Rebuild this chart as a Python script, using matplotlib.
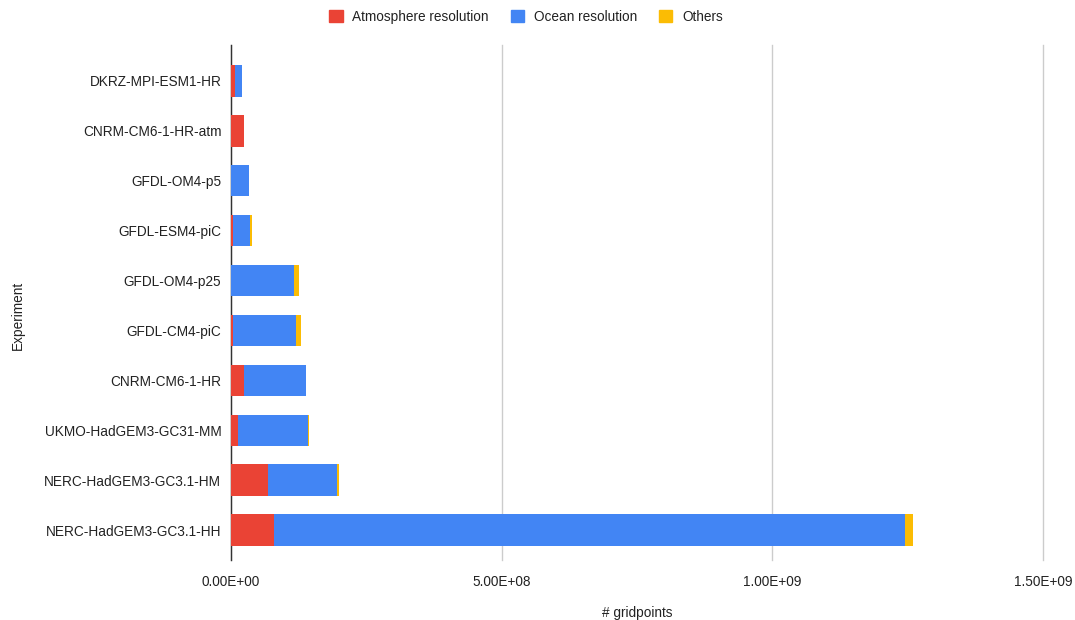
import matplotlib
matplotlib.use("Agg")
import matplotlib.pyplot as plt
from matplotlib.ticker import FuncFormatter
from matplotlib.patches import Patch

experiments = ["DKRZ-MPI-ESM1-HR", "CNRM-CM6-1-HR-atm", "GFDL-OM4-p5", "GFDL-ESM4-piC",
               "GFDL-OM4-p25", "GFDL-CM4-piC", "CNRM-CM6-1-HR", "UKMO-HadGEM3-GC31-MM",
               "NERC-HadGEM3-GC3.1-HM", "NERC-HadGEM3-GC3.1-HH"]
atmosphere = [8e6, 24e6, 0, 3.5e6, 0, 3.7e6, 24e6, 13.5e6, 68e6, 79e6]
ocean = [12.4e6, 0, 33e6, 31e6, 116e6, 116e6, 114e6, 128.7e6, 128.7e6, 1166e6]
others = [0, 0, 1e6, 3.7e6, 10.5e6, 9.8e6, 0, 2e6, 2.5e6, 14.8e6]
xticks = [0, 5e8, 1e9, 1.5e9]

RED, BLUE, YEL = "#EA4335", "#4285F4", "#FBBC04"
plt.rcParams['font.family'] = ['Liberation Sans', 'DejaVu Sans']
FS = 9.8
TC = "#222222"

fig = plt.figure(figsize=(10.75, 6.2), dpi=100)
ax = fig.add_axes([231/1075, 1-560/620, 812/1075, 515/620])

y = list(range(len(experiments)))
h = 0.63
ax.barh(y, atmosphere, height=h, color=RED, zorder=3)
ax.barh(y, ocean, left=atmosphere, height=h, color=BLUE, zorder=3)
left2 = [a + o for a, o in zip(atmosphere, ocean)]
ax.barh(y, others, left=left2, height=h, color=YEL, zorder=3)

ax.set_ylim(9.6, -0.72)
ax.set_xlim(0, 1.5e9)
ax.set_yticks(y)
ax.set_yticklabels(experiments)
ax.set_xticks(xticks)
ax.xaxis.set_major_formatter(FuncFormatter(lambda v, p: f"{v:.2E}"))
ax.tick_params(axis='both', length=0, labelsize=FS, colors=TC)
ax.tick_params(axis='y', pad=7)
ax.tick_params(axis='x', pad=11)
ax.grid(axis='x', color="#cccccc", linewidth=1, zorder=0)
for gl in ax.get_xgridlines():
    gl.set_clip_on(False)
for s in ['top', 'right', 'bottom']:
    ax.spines[s].set_visible(False)
ax.spines['left'].set_color("#333333")
ax.spines['left'].set_linewidth(1)
fig.text(637/1075, 1-613/620, "# gridpoints", ha='center', va='center',
         fontsize=FS, color=TC)
fig.text(18/1075, 1-315/620, "Experiment", rotation=90, va='center', ha='center',
         fontsize=FS, color=TC)

handles = [Patch(color=RED, label="Atmosphere resolution"),
           Patch(color=BLUE, label="Ocean resolution"),
           Patch(color=YEL, label="Others")]
fig.legend(handles=handles, loc='center', bbox_to_anchor=(526/1075, 1-17/620), ncol=3,
           frameon=False, fontsize=FS, handlelength=1.0, handleheight=1.0,
           handletextpad=0.7, columnspacing=1.6, labelcolor=TC)

fig.savefig("out.png", dpi=100)
